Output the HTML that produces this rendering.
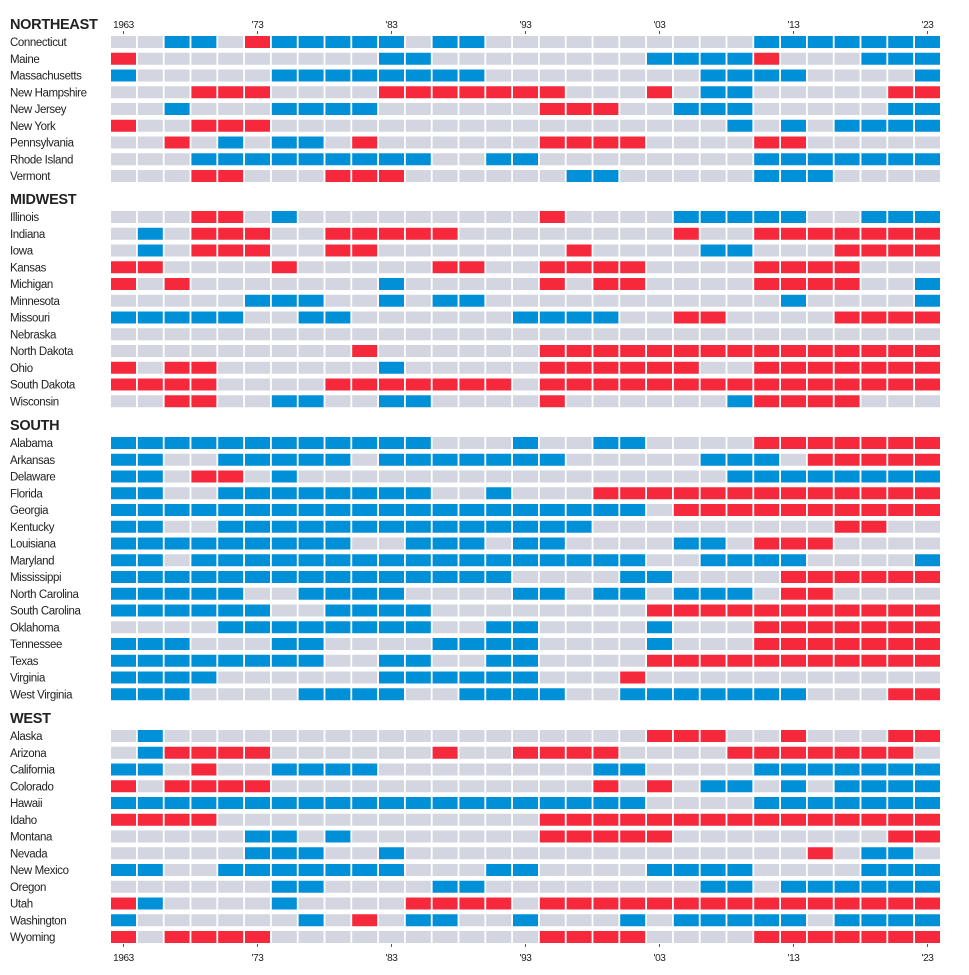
<!DOCTYPE html>
<html><head><meta charset="utf-8">
<style>
html,body{margin:0;padding:0;background:#fff;}
svg{display:block;font-family:"Liberation Sans",sans-serif;}
</style></head>
<body>
<svg id="chart" width="969" height="975" viewBox="0 0 969 975" xmlns="http://www.w3.org/2000/svg"></svg>
<script>
// Years (odd years 1963..2023)
const years = [1963,1965,1967,1969,1971,1973,1975,1977,1979,1981,1983,1985,1987,1989,1991,1993,1995,1997,1999,2001,2003,2005,2007,2009,2011,2013,2015,2017,2019,2021,2023];
const tickYears = [1963,1973,1983,1993,2003,2013,2023];
const tickLabels = ["1963","'73","'83","'93","'03","'13","'23"];
const regions = ["NORTHEAST","MIDWEST","SOUTH","WEST"];
const regionStates = [
 ["Connecticut","Maine","Massachusetts","New Hampshire","New Jersey","New York","Pennsylvania","Rhode Island","Vermont"],
 ["Illinois","Indiana","Iowa","Kansas","Michigan","Minnesota","Missouri","Nebraska","North Dakota","Ohio","South Dakota","Wisconsin"],
 ["Alabama","Arkansas","Delaware","Florida","Georgia","Kentucky","Louisiana","Maryland","Mississippi","North Carolina","South Carolina","Oklahoma","Tennessee","Texas","Virginia","West Virginia"],
 ["Alaska","Arizona","California","Colorado","Hawaii","Idaho","Montana","Nevada","New Mexico","Oregon","Utah","Washington","Wyoming"]
];
// D = Democratic trifecta, R = Republican trifecta, . = divided
const regionValues = [
 ["..DD.RDDDDD.DD..........DDDDDDD","R.........DD........DDDDR...DDD","D.....DDDDDDDD........DDDD....D","...RRR....RRRRRRR...R.DD.....RR","..D...DDDD......RRR..DDD.....DD","R..RRR.................D.D.DDDD","..R.D.DD.R......RRRR....RR.....","...DDDDDDDDD..DD........DDDDDDD","...RR...RRR......DD.....DDD...."],
 ["...RR.D.........R....DDDDD..DDD",".D.RRR..RRRRR........R..RRRRRRR",".D.RRR..RR.......R....DD...RRRR","RR....R.....RR..RRRR....RRRR...","R.R.......D.....R.RR....RRRR..D",".....DDD..D.DD...........D....D","DDDDD..DD......DDDD..RR....RRRR","...............................",".........R......RRRRRRRRRRRRRRR","R.RR......D.....RRRRRR..RRRRRRR","RRRR....RRRRRRR.RRRRRRRRRRRRRRR","..RR..DD..DD....R......DRRRR..."],
 ["DDDDDDDDDDDD...D..DD....RRRRRRR","DD..DDDDD.DDDDDDD.....DDD.RRRRR","DD.RR.D................DDDDDDDD","DD..DDDDDDDD..D...RRRRRRRRRRRRR","DDDDDDDDDDDDDDDDDDDD.RRRRRRRRRR","DD..DDDDDDDDDDDDDD.........RR..","DDDDDDDDD..DDD.DD....DD.RRR....","DD.DDDDDDDDDDDDDDDDD..DDDD....D","DDDDDDDDDDDDDDD....DD....RRRRRR","DDDDD..DDDD....DD.DD.DDD.RR....","DDDDDD..DDDD........RRRRRRRRRRR","....DDDDDDDD..DD....D...RRRRRRR","DDD...DD....DDDD....D...RRRRRRR","DDDDDDDD..DD..DD....RRRRRRRRRRR","DDDD......DDDDDD...R...........","DDD....DDDD..DDDD..DDDDDDD...RR"],
 [".D..................RRR..R...RR",".DRRRR......R..RRRR....RRRRRRR.","DD.R..DDDD........DD....DDDDDDD","R.RRRR............R.R.DD.D.DDDD","DDDDDDDDDDDDDDDDDDDD....DDDDDDD","RRRR............RRRRRRRRRRRRRRR",".....DD.D.......RRRRR........RR",".....DDD..D...............R.DD.","DD..DDDDDDD...DD....DDDD....DDD","......DD....DD........DD.DDDDDD","RD....D....RRRR.RRRRRRRRRRRRRRR","D......D.R.DD..D...D.DDDDD.DDDD","R.RRRR..........RRRR....RRRRRRR"]
];
const colors = {"D":"#0090d8","R":"#f5283c",".":"#d3d6e0"};
const regionFirstRow = [42,217,443,736];
const NS="http://www.w3.org/2000/svg";
const svg=document.getElementById('chart');
const x0=111, pitch=26.8, cw=25, ch=12, rowH=16.75;
function xScale(year){ return x0 + years.indexOf(year)*pitch; }
function mk(tag,attrs){const e=document.createElementNS(NS,tag);for(const k in attrs)e.setAttribute(k,attrs[k]);svg.appendChild(e);return e;}
regions.forEach((reg,ri)=>{
  const h=mk('text',{x:10,y:regionFirstRow[ri]-13,'font-size':'14.5','font-weight':'bold',fill:'#222','letter-spacing':'-0.3'});
  h.textContent=reg;
  
  
  regionStates[ri].forEach((st,si)=>{
    const cy=regionFirstRow[ri]+si*rowH;
    const t=mk('text',{x:10,y:cy+4,'font-size':'11.5',fill:'#222','letter-spacing':'-0.4'});
    t.textContent=st;
    
    
    const vals=regionValues[ri][si];
    years.forEach((yr,yi)=>{
      const r=mk('rect',{x:xScale(yr).toFixed(2),y:(cy-6).toFixed(2),width:cw,height:ch,fill:colors[vals[yi]]});
      
      
    });
  });
});
// axes top & bottom
tickYears.forEach((yr,i)=>{
  const cx=xScale(yr)+cw/2;
  [[25,33],[958,946]].forEach(([ly,ty],j)=>{
    const t=mk('text',{x:cx,y:ly+3,'font-size':'10','text-anchor':'middle',fill:'#222','letter-spacing':'-0.4'});
    t.textContent=tickLabels[i];
    
    
    const l=mk('line',{x1:cx,x2:cx,y1:ty-2,y2:ty+1,stroke:'#555','stroke-width':1});
    
    
  });
});
</script>
</body></html>
